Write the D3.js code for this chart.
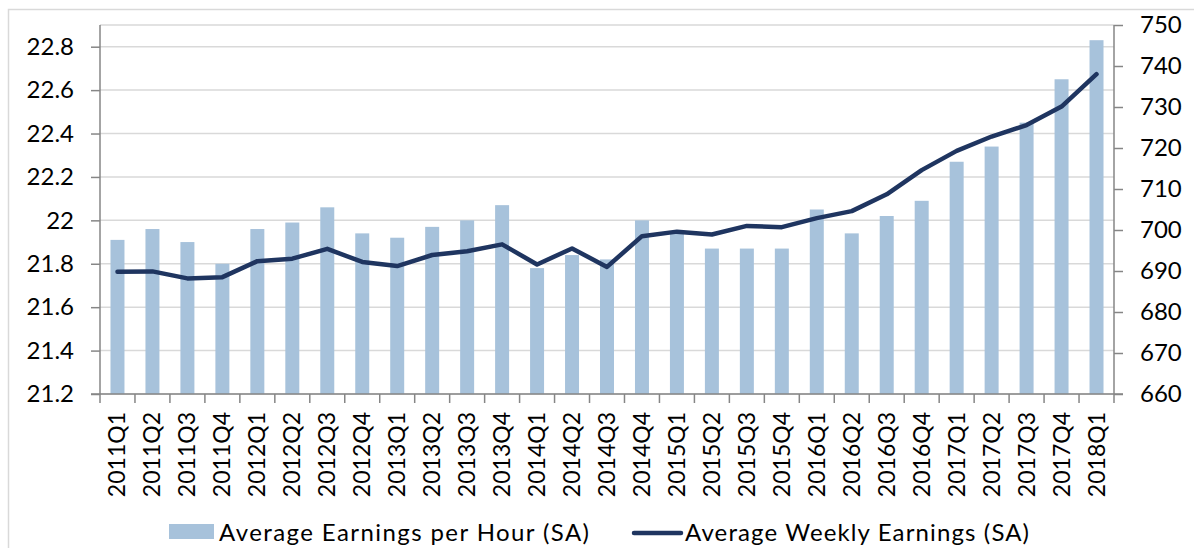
<!DOCTYPE html>
<html>
<head>
<meta charset="utf-8">
<script src="https://cdn.jsdelivr.net/npm/d3@7"></script>
<style>
  body { margin: 0; background: #fff; }
  text { font-family: Lato, "Noto Sans", sans-serif; fill: #000; }
</style>
</head>
<body>
<div class="container"></div>
<script>
var w = 1194;
var h = 548;

// quarters
var quarters = ["2011Q1","2011Q2","2011Q3","2011Q4","2012Q1","2012Q2","2012Q3","2012Q4",
  "2013Q1","2013Q2","2013Q3","2013Q4","2014Q1","2014Q2","2014Q3","2014Q4",
  "2015Q1","2015Q2","2015Q3","2015Q4","2016Q1","2016Q2","2016Q3","2016Q4",
  "2017Q1","2017Q2","2017Q3","2017Q4","2018Q1"];

// Average Earnings per Hour (SA) - left axis
var hourly = [21.91,21.96,21.90,21.80,21.96,21.99,22.06,21.94,
  21.92,21.97,22.00,22.07,21.78,21.84,21.82,22.00,
  21.95,21.87,21.87,21.87,22.05,21.94,22.02,22.09,
  22.27,22.34,22.45,22.65,22.83];

// Average Weekly Earnings (SA) - right axis
var weekly = [689.8,689.9,688.2,688.5,692.4,693.0,695.4,692.2,
  691.2,693.9,694.8,696.5,691.6,695.5,691.0,698.5,
  699.6,698.9,701.0,700.7,702.9,704.6,708.7,714.6,
  719.3,722.8,725.6,730.1,738.0];

var leftTicks = [21.2,21.4,21.6,21.8,22,22.2,22.4,22.6,22.8];
var rightTicks = [660,670,680,690,700,710,720,730,740,750];

var barColor = "#a7c2db";
var lineColor = "#1f3560";

var plotLeft = 100, plotRight = 1114, plotTop = 25, plotBottom = 394;

var svg = d3.select(".container")
    .append("svg")
    .attr("width", w)
    .attr("height", h);

// chart border
svg.append("rect")
    .attr("x", 8.5).attr("y", 9.5)
    .attr("width", 1200).attr("height", 560)
    .attr("fill", "none")
    .attr("stroke", "#d9d9d9")
    .attr("stroke-width", 1.5);

var x = d3.scaleBand()
    .domain(quarters)
    .range([plotLeft, plotRight])
    .paddingInner(0.6)
    .paddingOuter(0.3);

var yL = d3.scaleLinear().domain([21.2, 22.9]).range([plotBottom, plotTop]);
var yR = d3.scaleLinear().domain([660, 750]).range([plotBottom, plotTop]);

// gridlines
svg.selectAll(".grid")
    .data(leftTicks.concat([22.9]))
    .enter().append("line")
    .attr("class", "grid")
    .attr("x1", plotLeft).attr("x2", plotRight)
    .attr("y1", function(d) { return yL(d); })
    .attr("y2", function(d) { return yL(d); })
    .attr("stroke", "#d9d9d9")
    .attr("stroke-width", 1.5);

// bars
svg.selectAll(".bar")
    .data(hourly)
    .enter().append("rect")
    .attr("class", "bar")
    .attr("x", function(d, i) { return x(quarters[i]); })
    .attr("width", x.bandwidth())
    .attr("y", function(d) { return yL(d); })
    .attr("height", function(d) { return plotBottom - yL(d); })
    .attr("fill", barColor);

// line
var line = d3.line()
    .x(function(d, i) { return x(quarters[i]) + x.bandwidth() / 2; })
    .y(function(d) { return yR(d); });

svg.append("path")
    .datum(weekly)
    .attr("d", line)
    .attr("fill", "none")
    .attr("stroke", lineColor)
    .attr("stroke-width", 4.5)
    .attr("stroke-linejoin", "round")
    .attr("stroke-linecap", "round");

// axes
var axisColor = "#868686";

var gL = svg.append("g").attr("transform", "translate(" + plotLeft + ",0)")
    .call(d3.axisLeft(yL).tickValues(leftTicks).tickSize(9).tickPadding(17)
      .tickFormat(function(d) { return d3.format("")(+d.toFixed(1)); }));
var gR = svg.append("g").attr("transform", "translate(" + plotRight + ",0)")
    .call(d3.axisRight(yR).tickValues(rightTicks).tickSize(9).tickPadding(17));

[gL, gR].forEach(function(g) {
  g.select(".domain").remove();
  g.selectAll(".tick line").attr("stroke", axisColor).attr("stroke-width", 1.5);
  g.selectAll("text").attr("font-size", 24).attr("fill", "#000")
    .attr("font-family", "Lato, 'Noto Sans', sans-serif");
});

svg.append("line").attr("x1", plotLeft).attr("x2", plotLeft).attr("y1", plotTop).attr("y2", plotBottom)
    .attr("stroke", axisColor).attr("stroke-width", 1.5);
svg.append("line").attr("x1", plotRight).attr("x2", plotRight).attr("y1", plotTop).attr("y2", plotBottom)
    .attr("stroke", axisColor).attr("stroke-width", 1.5);
svg.append("line").attr("x1", plotLeft - 9).attr("x2", plotRight + 9).attr("y1", plotBottom).attr("y2", plotBottom)
    .attr("stroke", axisColor).attr("stroke-width", 1.5);

// category boundary ticks
svg.selectAll(".xtick")
    .data(d3.range(quarters.length + 1))
    .enter().append("line")
    .attr("class", "xtick")
    .attr("x1", function(i) { return plotLeft + i * x.step(); })
    .attr("x2", function(i) { return plotLeft + i * x.step(); })
    .attr("y1", plotBottom).attr("y2", plotBottom + 9)
    .attr("stroke", axisColor).attr("stroke-width", 1.5);

// category labels
svg.selectAll(".xlabel")
    .data(quarters)
    .enter().append("text")
    .attr("class", "xlabel")
    .attr("transform", function(d) {
      return "translate(" + (x(d) + x.bandwidth() / 2 + 8) + "," + (plotBottom + 18) + ") rotate(-90)";
    })
    .attr("text-anchor", "end")
    .attr("font-size", 23)
    .text(function(d) { return d; });

// legend
var legend = svg.append("g").attr("class", "key");
legend.append("rect")
    .attr("x", 169).attr("y", 524).attr("width", 45).attr("height", 15)
    .attr("fill", barColor);
legend.append("text")
    .attr("x", 219).attr("y", 541)
    .attr("font-size", 24)
    .attr("textLength", 370)
    .attr("lengthAdjust", "spacing")
    .text("Average Earnings per Hour (SA)");
legend.append("line")
    .attr("x1", 634).attr("x2", 681).attr("y1", 533).attr("y2", 533)
    .attr("stroke", lineColor).attr("stroke-width", 4.5)
    .attr("stroke-linecap", "round");
legend.append("text")
    .attr("x", 685).attr("y", 541)
    .attr("font-size", 24)
    .attr("textLength", 344)
    .attr("lengthAdjust", "spacing")
    .text("Average Weekly Earnings (SA)");
</script>
</body>
</html>
